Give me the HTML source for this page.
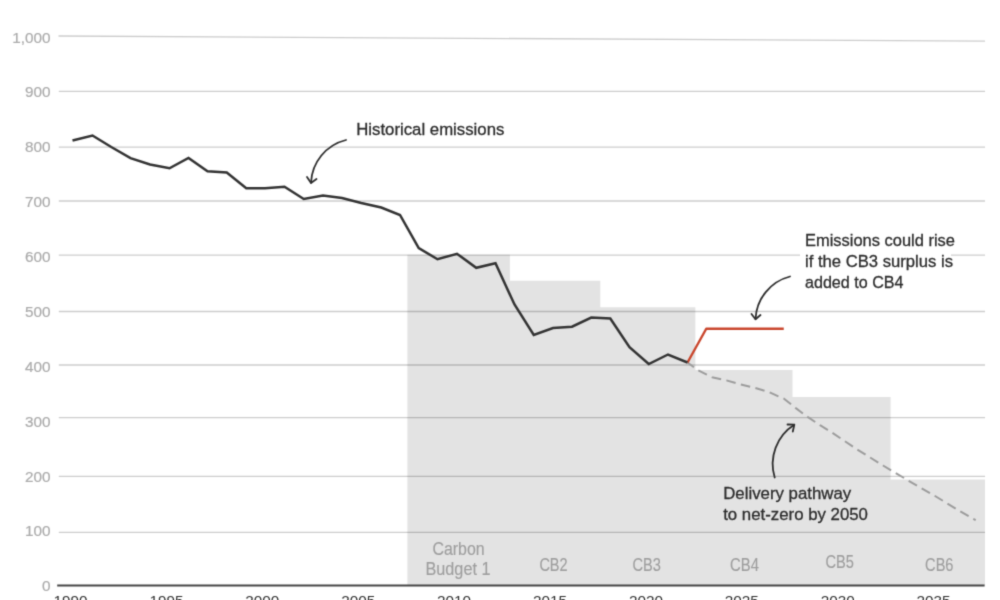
<!DOCTYPE html>
<html><head><meta charset="utf-8"><title>Emissions and carbon budgets</title>
<style>
html,body{margin:0;padding:0;background:#fff;}
body{width:1000px;height:600px;overflow:hidden;}
svg{display:block;font-family:"Liberation Sans",sans-serif;}
.yl{font-size:15.3px;fill:#ababab;stroke:#ababab;stroke-width:0.2px;text-anchor:end;}
.xl{font-size:15.3px;fill:#333;text-anchor:middle;}
.cb{font-size:17.5px;fill:#9e9e9e;stroke:#9e9e9e;stroke-width:0.15px;text-anchor:middle;}
.an{font-size:16.8px;fill:#2c2c2c;stroke:#2c2c2c;stroke-width:0.3px;}
.g{stroke:#000;stroke-opacity:0.2;stroke-width:1.3;fill:none;}
.ar{stroke:#2e2e2e;stroke-width:1.8;fill:none;stroke-linecap:round;stroke-linejoin:round;}
</style></head><body>
<svg width="1000" height="600" viewBox="0 0 1000 600">
<defs><filter id="soft" color-interpolation-filters="sRGB" x="0" y="0" width="1000" height="600" filterUnits="userSpaceOnUse"><feConvolveMatrix order="3" kernelMatrix="0.02250 0.10500 0.02250 0.10500 0.49000 0.10500 0.02250 0.10500 0.02250" divisor="1" edgeMode="duplicate" preserveAlpha="true"/></filter></defs>
<g filter="url(#soft)">
<rect x="-5" y="-5" width="1010" height="610" fill="#fff"/>

<path d="M407.4,585.5 L407.4,254.7 L509.9,254.7 L509.9,280.65 L600.3,280.65 L600.3,307.15 L695.35,307.15 L695.35,370.0 L792.5,370.0 L792.5,397 L890.6,397 L890.6,479.45 L985,479.45 L985,585.5 Z" fill="#e3e3e3"/>
<line class="g" x1="58.5" y1="36" x2="985" y2="41.2"/>
<line class="g" x1="58.8" y1="91.4" x2="985" y2="91.4"/>
<line class="g" x1="58.8" y1="147.1" x2="985" y2="147.1"/>
<line class="g" x1="58.8" y1="201.0" x2="985" y2="201.0"/>
<line class="g" x1="58.8" y1="255.05" x2="800" y2="255.05"/>
<line class="g" x1="951" y1="255.05" x2="985" y2="255.05"/>
<line class="g" x1="58.8" y1="311.5" x2="985" y2="311.5"/>
<line class="g" x1="58.8" y1="365.0" x2="985" y2="365.0"/>
<line class="g" x1="58.8" y1="417.7" x2="985" y2="417.7"/>
<line class="g" x1="58.8" y1="476.3" x2="985" y2="476.3"/>
<line class="g" x1="58.8" y1="532.3" x2="985" y2="532.3"/>
<text class="yl" x="50.5" y="42.50">1,000</text>
<text class="yl" x="50.5" y="97.38">900</text>
<text class="yl" x="50.5" y="152.26">800</text>
<text class="yl" x="50.5" y="207.14">700</text>
<text class="yl" x="50.5" y="262.02">600</text>
<text class="yl" x="50.5" y="316.90">500</text>
<text class="yl" x="50.5" y="371.78">400</text>
<text class="yl" x="50.5" y="426.66">300</text>
<text class="yl" x="50.5" y="481.54">200</text>
<text class="yl" x="50.5" y="536.42">100</text>
<text class="yl" x="50.5" y="591.30">0</text>
<line x1="57.2" y1="585.5" x2="984.6" y2="585.5" stroke="#444" stroke-width="2"/>
<text class="xl" x="70.5" y="606">1990</text>
<text class="xl" x="166.4" y="606">1995</text>
<text class="xl" x="262.3" y="606">2000</text>
<text class="xl" x="358.2" y="606">2005</text>
<text class="xl" x="454.1" y="606">2010</text>
<text class="xl" x="550.0" y="606">2015</text>
<text class="xl" x="645.9" y="606">2020</text>
<text class="xl" x="741.8" y="606">2025</text>
<text class="xl" x="837.7" y="606">2030</text>
<text class="xl" x="933.6" y="606">2035</text>
<text class="cb" x="458.5" y="554.6" textLength="52.2" lengthAdjust="spacingAndGlyphs">Carbon</text>
<text class="cb" x="458" y="575" textLength="65.1" lengthAdjust="spacingAndGlyphs">Budget 1</text>
<text class="cb" x="553.5" y="570.5" textLength="28.2" lengthAdjust="spacingAndGlyphs">CB2</text>
<text class="cb" x="646.75" y="570.5" textLength="28.4" lengthAdjust="spacingAndGlyphs">CB3</text>
<text class="cb" x="744.5" y="570.5" textLength="28.8" lengthAdjust="spacingAndGlyphs">CB4</text>
<text class="cb" x="839.6" y="568.4" textLength="28.4" lengthAdjust="spacingAndGlyphs">CB5</text>
<text class="cb" x="939.3" y="570.5" textLength="28.4" lengthAdjust="spacingAndGlyphs">CB6</text>
<polyline points="687.5,362.5 697.6,370 706.75,374.6 712,377.2 726.4,380.4 740.8,384.4 755.2,387.9 769.6,392.4 778.4,396.4 783.7,398.5 791.2,404.4 795.5,407.9 803.2,413.7 808,417.2 815.2,422 820,425.2 827.2,429.7 832,432.6 857.4,449.6 883,465.5 908.2,480.5 934.2,495.5 958.9,510.5 975.7,520.2" fill="none" stroke="#9c9c9c" stroke-width="2" stroke-dasharray="9.6 5.4" stroke-dashoffset="1.6" stroke-linejoin="round"/>
<polyline points="687.5,362.5 706.25,328.75 783.75,328.75" fill="none" stroke="#c9452c" stroke-width="2.4" stroke-linejoin="round"/>
<polyline points="72.5,140.5 92.5,135.5 111.25,147 130.5,158.1 150,164.5 169.5,168.25 188.5,157.9 207.5,171.25 226.75,172.5 246.25,188.25 265,188.25 284.5,186.75 303.75,199 323,195.5 342,198 361.25,203 381.25,207.5 400,215 418.75,248.1 437.5,259.25 457,253.75 476.25,267.8 495.5,263.25 514.5,304.5 533.75,335 553,328 572,326.75 591.25,317.5 610.3,318.5 629.5,347.2 648.75,364 668,354.5 687.5,362.5" fill="none" stroke="#333" stroke-width="2.5" stroke-linejoin="miter" stroke-linecap="butt"/>
<text class="an" x="356.2" y="134.5" textLength="148.2" lengthAdjust="spacingAndGlyphs">Historical emissions</text>
<text class="an" x="805" y="246.3" textLength="150" lengthAdjust="spacingAndGlyphs">Emissions could rise</text>
<text class="an" x="805" y="267.1" textLength="148" lengthAdjust="spacingAndGlyphs">if the CB3 surplus is</text>
<text class="an" x="805" y="288" textLength="98.5" lengthAdjust="spacingAndGlyphs">added to CB4</text>
<text class="an" x="723.2" y="499.3" textLength="128" lengthAdjust="spacingAndGlyphs">Delivery pathway</text>
<text class="an" x="723.2" y="520" textLength="144.75" lengthAdjust="spacingAndGlyphs">to net-zero by 2050</text>
<path class="ar" d="M346,140 A46,46 0 0 0 311,182.7"/>
<path class="ar" d="M307,177 L311,183 L316.5,179"/>
<path class="ar" d="M790,276.5 A46,46 0 0 0 755.5,319"/>
<path class="ar" d="M751.5,314 L755.5,319.3 L760.5,315"/>
<path class="ar" d="M774.7,477.5 A46.5,46.5 0 0 1 794.2,424.8"/>
<path class="ar" d="M787.5,424.5 L794.3,424.7 L792.8,431.5"/>
</g></svg></body></html>
